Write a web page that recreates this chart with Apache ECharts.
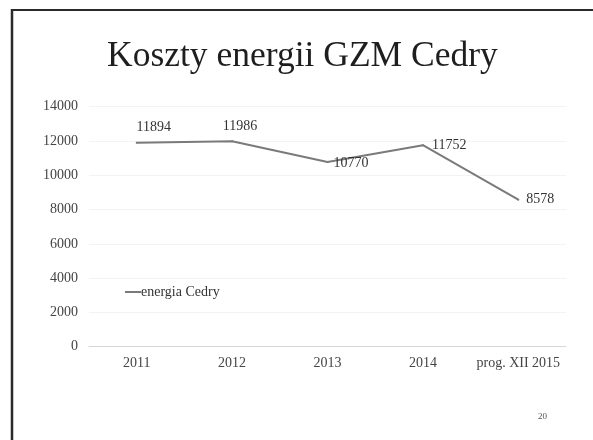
<!DOCTYPE html>
<html>
<head>
<meta charset="utf-8">
<script src="https://cdn.jsdelivr.net/npm/echarts@6/dist/echarts.min.js"></script>
<style>
html,body{margin:0;padding:0;background:#fff;}
#chart{width:593px;height:440px;}
</style>
</head>
<body>
<div id="chart"></div>
<script>
var categories = ['2011', '2012', '2013', '2014', 'prog. XII 2015'];
var values = [11894, 11986, 10770, 11752, 8578];
var seriesName = 'energia Cedry';
var titleText = 'Koszty energii GZM Cedry';
var pageNumber = '20';

var labelPlacement = [
  { position: 'top', offset: [17, -2] },
  { position: 'top', offset: [8, -2] },
  { position: 'right', offset: [0, 1] },
  { position: 'right', offset: [3, 0] },
  { position: 'right', offset: [2, 0] }
];

var serif = '"Liberation Serif", "DejaVu Serif", serif';
var chart = echarts.init(document.getElementById('chart'), null, { renderer: 'canvas' });

var data = values.map(function (v, i) {
  return { value: v, label: labelPlacement[i] };
});

chart.setOption({
  backgroundColor: '#ffffff',
  animation: false,
  title: {
    text: titleText,
    left: 102,
    top: 34,
    textStyle: { fontFamily: serif, fontSize: 35.5, fontWeight: 'normal', color: '#1e1e1e' }
  },
  legend: {
    left: 125,
    top: 285,
    padding: 0,
    itemWidth: 16,
    itemHeight: 10,
    itemGap: 0,
    icon: 'path://M0,4 L16,4 L16,6 L0,6 Z',
    itemStyle: { color: '#7a7a7a', opacity: 1 },
    textStyle: { fontFamily: serif, fontSize: 14, color: '#333', padding: [0, 0, 0, -5] },
    data: [seriesName]
  },
  grid: { left: 89, right: 27, top: 106.7, bottom: 93.3, containLabel: false },
  xAxis: {
    type: 'category',
    data: categories,
    boundaryGap: true,
    axisLine: { show: true, lineStyle: { color: '#d6d6d6', width: 1 } },
    axisTick: { show: false },
    axisLabel: { fontFamily: serif, fontSize: 14, color: '#444', margin: 10, interval: 0 },
    splitLine: { show: false }
  },
  yAxis: {
    type: 'value',
    min: 0,
    max: 14000,
    interval: 2000,
    axisLine: { show: false },
    axisTick: { show: false },
    axisLabel: { fontFamily: serif, fontSize: 14, color: '#444', margin: 11, formatter: function (v) { return String(v); } },
    splitLine: { show: true, lineStyle: { color: '#f3f3f3', width: 1 } }
  },
  series: [{
    name: seriesName,
    type: 'line',
    data: data,
    symbol: 'circle',
    symbolSize: 2,
    showSymbol: true,
    lineStyle: { color: '#7a7a7a', width: 2 },
    itemStyle: { color: '#7a7a7a' },
    label: {
      show: true,
      fontFamily: serif,
      fontSize: 14,
      color: '#333',
      distance: 5
    }
  }],
  graphic: [
    { type: 'line', shape: { x1: 11, y1: 10, x2: 593, y2: 10 }, style: { stroke: '#2a2a2a', lineWidth: 2 }, silent: true },
    { type: 'line', shape: { x1: 12, y1: 9, x2: 12, y2: 440 }, style: { stroke: '#2a2a2a', lineWidth: 2.5 }, silent: true },
    { type: 'text', left: 538, top: 412, style: { text: pageNumber, fontFamily: serif, fontSize: 9, fill: '#555' }, silent: true }
  ]
});
</script>
</body>
</html>
